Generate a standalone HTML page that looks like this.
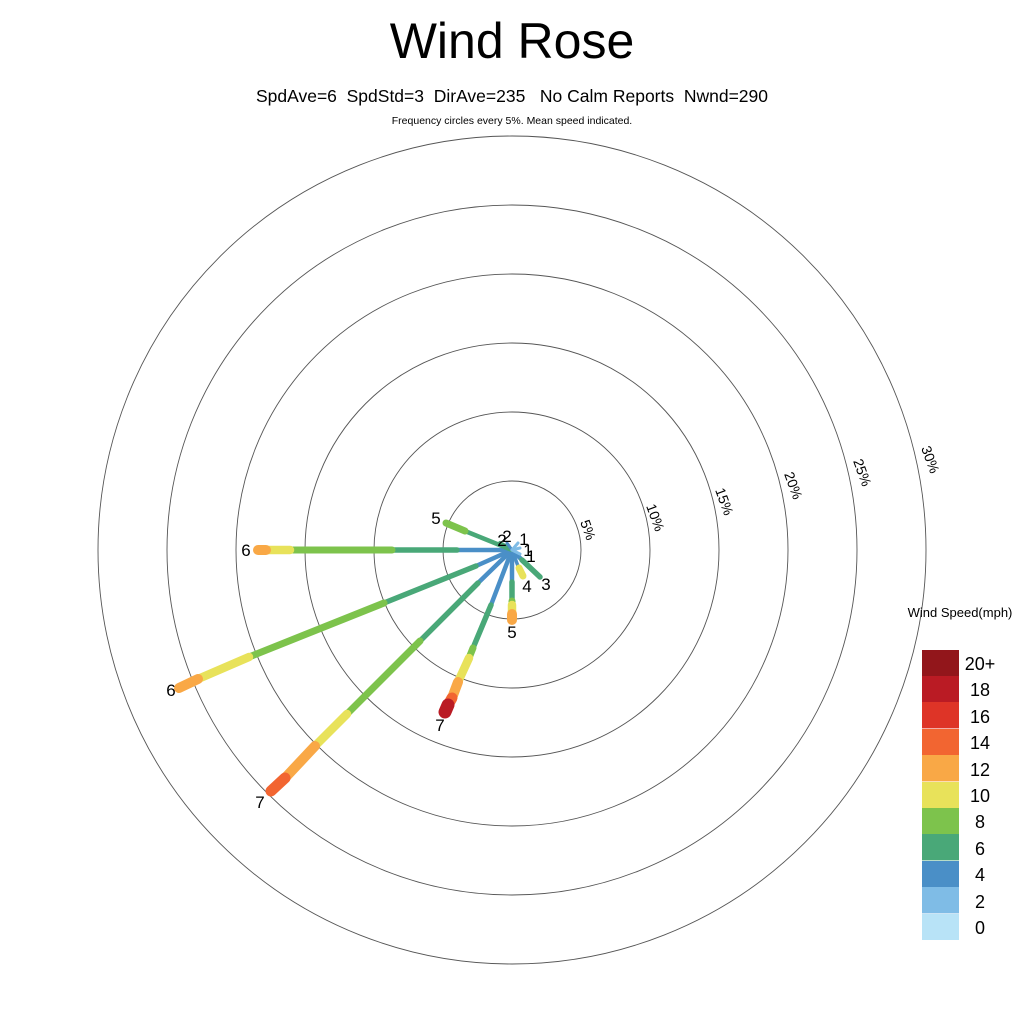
<!DOCTYPE html>
<html><head><meta charset="utf-8"><style>
body{margin:0;background:#fff;}
svg{display:block;font-family:"Liberation Sans",sans-serif;}
text{white-space:pre;}
</style></head><body>
<svg width="1024" height="1024" viewBox="0 0 1024 1024" xml:space="preserve">
<rect width="1024" height="1024" fill="#fff"/>
<text x="512" y="58" font-size="50" text-anchor="middle">Wind Rose</text>
<text x="512" y="102" font-size="17.5" text-anchor="middle">SpdAve=6  SpdStd=3  DirAve=235   No Calm Reports  Nwnd=290</text>
<text x="512" y="124" font-size="10.5" text-anchor="middle">Frequency circles every 5%. Mean speed indicated.</text>
<g fill="none" stroke="#555" stroke-width="0.9">
<circle cx="512" cy="550" r="69"/><circle cx="512" cy="550" r="138"/><circle cx="512" cy="550" r="207"/>
<circle cx="512" cy="550" r="276"/><circle cx="512" cy="550" r="345"/><circle cx="512" cy="550" r="414"/>
</g>
<g font-size="14">
<text transform="translate(580,522) rotate(70)">5%</text>
<text transform="translate(646,506) rotate(70)">10%</text>
<text transform="translate(715,490) rotate(70)">15%</text>
<text transform="translate(784,474) rotate(70)">20%</text>
<text transform="translate(853,461) rotate(70)">25%</text>
<text transform="translate(921,448) rotate(70)">30%</text>
</g>
<g stroke-linecap="round" fill="none">
<line x1="512" y1="550" x2="457" y2="550" stroke="#4a8fc7" stroke-width="4.5"/>
<line x1="457" y1="550" x2="392" y2="550" stroke="#49a878" stroke-width="5.5"/>
<line x1="392" y1="550" x2="290" y2="550" stroke="#7dc34c" stroke-width="7"/>
<line x1="290" y1="550" x2="266" y2="550" stroke="#e8e25a" stroke-width="8.5"/>
<line x1="266" y1="550" x2="258" y2="550" stroke="#f9a846" stroke-width="10"/>
<line x1="512" y1="550" x2="476" y2="566" stroke="#4a8fc7" stroke-width="4.5"/>
<line x1="476" y1="566" x2="384" y2="603" stroke="#49a878" stroke-width="5.5"/>
<line x1="384" y1="603" x2="249" y2="657" stroke="#7dc34c" stroke-width="7"/>
<line x1="249" y1="657" x2="198" y2="679" stroke="#e8e25a" stroke-width="8.5"/>
<line x1="198" y1="679" x2="179" y2="688" stroke="#f9a846" stroke-width="10"/>
<line x1="512" y1="550" x2="478" y2="583" stroke="#4a8fc7" stroke-width="4.5"/>
<line x1="478" y1="583" x2="420" y2="641" stroke="#49a878" stroke-width="5.5"/>
<line x1="420" y1="641" x2="347" y2="714" stroke="#7dc34c" stroke-width="7"/>
<line x1="347" y1="714" x2="315" y2="746" stroke="#e8e25a" stroke-width="8.5"/>
<line x1="315" y1="746" x2="285" y2="778" stroke="#f9a846" stroke-width="10"/>
<line x1="285" y1="778" x2="271" y2="791" stroke="#f26531" stroke-width="11"/>
<line x1="512" y1="550" x2="491" y2="605" stroke="#4a8fc7" stroke-width="4.5"/>
<line x1="491" y1="605" x2="473" y2="648" stroke="#49a878" stroke-width="5.5"/>
<line x1="473" y1="648" x2="469" y2="658" stroke="#7dc34c" stroke-width="7"/>
<line x1="469" y1="658" x2="458" y2="682" stroke="#e8e25a" stroke-width="8.5"/>
<line x1="458" y1="682" x2="452" y2="698" stroke="#f9a846" stroke-width="10"/>
<line x1="452" y1="698" x2="448" y2="705" stroke="#f26531" stroke-width="11"/>
<line x1="448" y1="705" x2="445" y2="712" stroke="#ba1b24" stroke-width="13"/>
<line x1="512" y1="550" x2="512" y2="582" stroke="#4a8fc7" stroke-width="4.5"/>
<line x1="512" y1="582" x2="512" y2="601" stroke="#49a878" stroke-width="5.5"/>
<line x1="512" y1="601" x2="512" y2="605" stroke="#7dc34c" stroke-width="7"/>
<line x1="512" y1="605" x2="512" y2="612" stroke="#e8e25a" stroke-width="8.5"/>
<line x1="512" y1="614" x2="512" y2="620" stroke="#f9a846" stroke-width="10"/>
<line x1="512" y1="550" x2="465" y2="531" stroke="#49a878" stroke-width="4.5"/>
<line x1="465" y1="531" x2="446" y2="523" stroke="#7dc34c" stroke-width="7"/>
<line x1="512" y1="550" x2="518" y2="566" stroke="#4a8fc7" stroke-width="3.5"/>
<line x1="519" y1="568" x2="523" y2="576" stroke="#e8e25a" stroke-width="7"/>
<line x1="512" y1="550" x2="522" y2="560" stroke="#4a8fc7" stroke-width="4.5"/>
<line x1="522" y1="560" x2="540" y2="577" stroke="#49a878" stroke-width="5.5"/>
<line x1="512" y1="550" x2="500" y2="543" stroke="#49a878" stroke-width="4"/>
<line x1="512" y1="550" x2="507" y2="543" stroke="#4a8fc7" stroke-width="3"/>
<line x1="512" y1="550" x2="518" y2="543" stroke="#7fbce6" stroke-width="3"/>
<line x1="512" y1="550" x2="520" y2="548" stroke="#7fbce6" stroke-width="3"/>
<line x1="512" y1="550" x2="520" y2="554" stroke="#7fbce6" stroke-width="3"/>
</g>
<g font-size="17" text-anchor="middle">
<text x="246" y="556">6</text>
<text x="171" y="696">6</text>
<text x="260" y="808">7</text>
<text x="440" y="731">7</text>
<text x="512" y="638">5</text>
<text x="436" y="524">5</text>
<text x="527" y="592">4</text>
<text x="546" y="590">3</text>
<text x="502" y="546">2</text>
<text x="507" y="542">2</text>
<text x="524" y="545">1</text>
<text x="528" y="556">1</text>
<text x="531" y="562">1</text>
</g>
<text x="960" y="617" font-size="13" text-anchor="middle">Wind Speed(mph)</text>
<g>
<rect x="922" y="650" width="37" height="26.4" fill="#92161b"/>
<rect x="922" y="676" width="37" height="26.4" fill="#ba1b24"/>
<rect x="922" y="702" width="37" height="26.4" fill="#de3427"/>
<rect x="922" y="729" width="37" height="26.4" fill="#f26531"/>
<rect x="922" y="755" width="37" height="26.4" fill="#f9a846"/>
<rect x="922" y="782" width="37" height="26.4" fill="#e8e25a"/>
<rect x="922" y="808" width="37" height="26.4" fill="#7dc34c"/>
<rect x="922" y="834" width="37" height="26.4" fill="#49a878"/>
<rect x="922" y="861" width="37" height="26.4" fill="#4a8fc7"/>
<rect x="922" y="887" width="37" height="26.4" fill="#7fbce6"/>
<rect x="922" y="914" width="37" height="26" fill="#b8e3f7"/>
</g>
<g font-size="18" text-anchor="middle">
<text x="980" y="670">20+</text>
<text x="980" y="696">18</text>
<text x="980" y="723">16</text>
<text x="980" y="749">14</text>
<text x="980" y="776">12</text>
<text x="980" y="802">10</text>
<text x="980" y="828">8</text>
<text x="980" y="855">6</text>
<text x="980" y="881">4</text>
<text x="980" y="908">2</text>
<text x="980" y="934">0</text>
</g>
</svg>
</body></html>
